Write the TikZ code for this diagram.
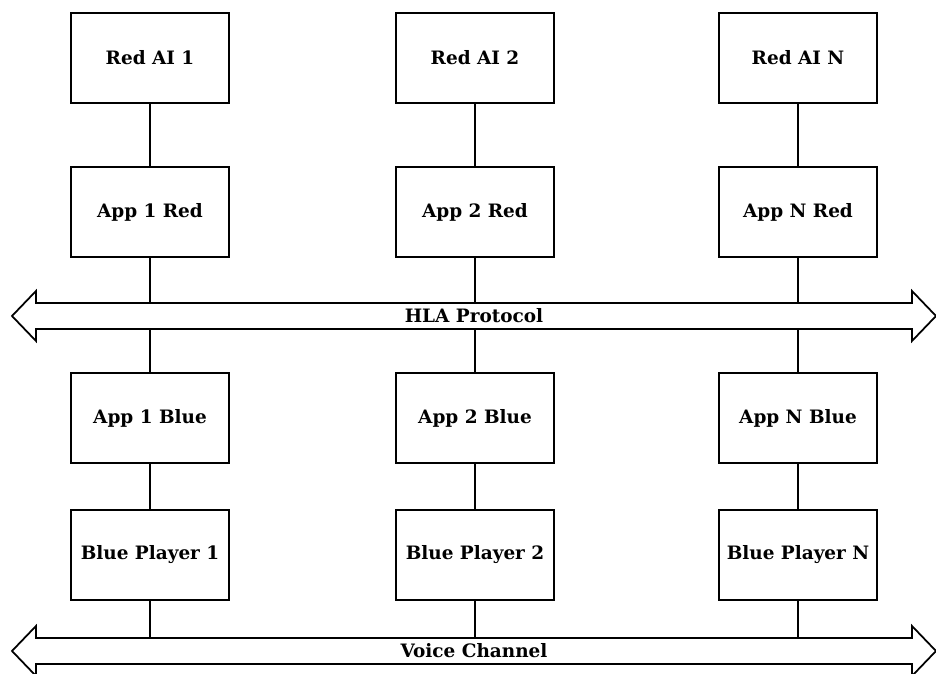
\documentclass[tikz,border=0pt]{standalone}
\usepackage{fontspec}
\setmainfont{DejaVu Serif}

\begin{document}
\begin{tikzpicture}[
        box/.style={draw, rectangle, line width=1pt, minimum width=3.16cm, minimum height=1.8cm, font=\bfseries\fontsize{10.5}{12}\selectfont},
        label/.style={inner sep=0pt, font=\bfseries\fontsize{10.5}{12}\selectfont},
        link/.style={line width=1pt, line join=miter}
    ]
        \useasboundingbox (0, 0) rectangle (18.72, 13.48);

        % Red AIs
        \node[box] (redai1) at (3, 12.32) {Red AI 1};
        \node[box] (redai2) at (9.5, 12.32) {Red AI 2};
        \node[box] (redain) at (15.96, 12.32) {Red AI N};

        % Red applications
        \node[box] (app1red) at (3, 9.24) {App 1 Red};
        \node[box] (app2red) at (9.5, 9.24) {App 2 Red};
        \node[box] (appnred) at (15.96, 9.24) {App N Red};

        % Blue applications
        \node[box] (app1blue) at (3, 5.12) {App 1 Blue};
        \node[box] (app2blue) at (9.5, 5.12) {App 2 Blue};
        \node[box] (appnblue) at (15.96, 5.12) {App N Blue};

        % Blue players
        \node[box] (player1) at (3, 2.38) {Blue Player 1};
        \node[box] (player2) at (9.5, 2.38) {Blue Player 2};
        \node[box] (playern) at (15.96, 2.38) {Blue Player N};

        % HLA bus
        \draw[link] (0.24, 7.16) -- (0.72, 7.66) -- (0.72, 7.42) -- (18.24, 7.42) -- (18.24, 7.66)
            -- (18.72, 7.16) -- (18.24, 6.66) -- (18.24, 6.90) -- (0.72, 6.90) -- (0.72, 6.66) -- cycle;
        \coordinate (hlatop) at (9.48, 7.42);
        \coordinate (hlabot) at (9.48, 6.90);
        \node[label] (hla) at (9.48, 7.16) {HLA Protocol};

        % Voice bus
        \draw[link] (0.24, 0.46) -- (0.72, 0.96) -- (0.72, 0.72) -- (18.24, 0.72) -- (18.24, 0.96)
            -- (18.72, 0.46) -- (18.24, -0.04) -- (18.24, 0.20) -- (0.72, 0.20) -- (0.72, -0.04) -- cycle;
        \coordinate (voicetop) at (9.48, 0.72);
        \node[label] (voice) at (9.48, 0.46) {Voice Channel};

        % AI to application
        \draw[link] (redai1) -- (app1red);
        \draw[link] (redai2) -- (app2red);
        \draw[link] (redain) -- (appnred);

        % Red applications to HLA
        \draw[link] (app1red) -- (app1red |- hlatop);
        \draw[link] (app2red) -- (app2red |- hlatop);
        \draw[link] (appnred) -- (appnred |- hlatop);

        % HLA to blue applications
        \draw[link] (hlabot -| app1blue) -- (app1blue);
        \draw[link] (hlabot -| app2blue) -- (app2blue);
        \draw[link] (hlabot -| appnblue) -- (appnblue);

        % Blue applications to players
        \draw[link] (app1blue) -- (player1);
        \draw[link] (app2blue) -- (player2);
        \draw[link] (appnblue) -- (playern);

        % Players to voice channel
        \draw[link] (player1) -- (player1 |- voicetop);
        \draw[link] (player2) -- (player2 |- voicetop);
        \draw[link] (playern) -- (playern |- voicetop);
    \end{tikzpicture}
\end{document}
